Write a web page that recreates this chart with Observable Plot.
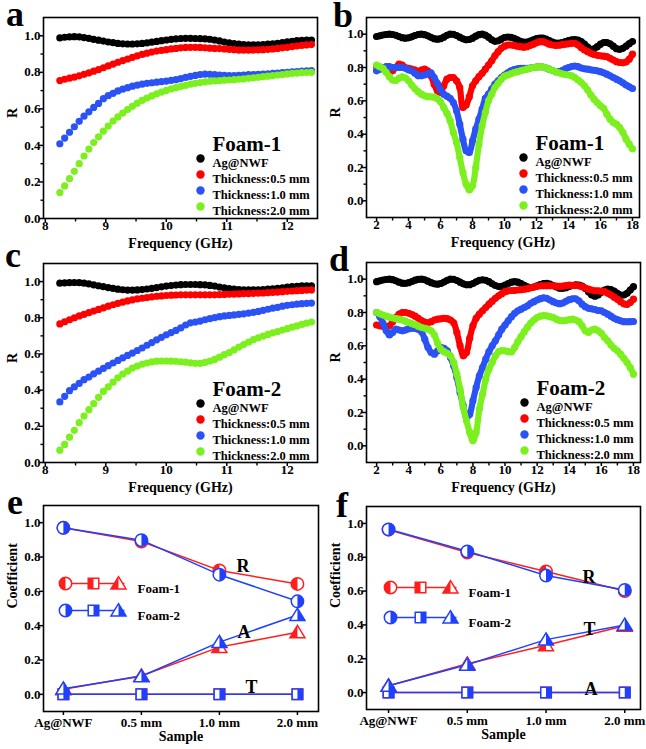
<!DOCTYPE html>
<html><head><meta charset="utf-8">
<script src="https://cdn.jsdelivr.net/npm/d3@7"></script>
<script src="https://cdn.jsdelivr.net/npm/@observablehq/plot@0.6"></script>
<style>
html,body{margin:0;padding:0;background:#fff;}
#root{position:relative;width:646px;height:749px;overflow:hidden;background:#fff;}
#root svg, #root svg text{font-family:'Liberation Serif','Times New Roman',serif !important;font-weight:bold;}
</style></head><body><div id="root"></div>
<script>
const FONT = "'Liberation Serif','Times New Roman',serif";

// ---------- panels a-d: legend ----------
const seriesNames = ["Ag@NWF", "Thickness:0.5 mm", "Thickness:1.0 mm", "Thickness:2.0 mm"];
const seriesColors = ["#000000", "#ff0000", "#2a52f5", "#7cf01e"];

// ---------- panels a & c: frequency (GHz), X band ----------
const freqX = [
  8.24, 8.32, 8.40, 8.48, 8.56, 8.64, 8.72, 8.80, 8.88, 8.96,
  9.04, 9.12, 9.20, 9.28, 9.36, 9.44, 9.52, 9.60, 9.68, 9.76,
  9.84, 9.92, 10.00, 10.08, 10.16, 10.24, 10.32, 10.40, 10.48, 10.56,
  10.64, 10.72, 10.80, 10.88, 10.96, 11.04, 11.12, 11.20, 11.28, 11.36,
  11.44, 11.52, 11.60, 11.68, 11.76, 11.84, 11.92, 12.00, 12.08, 12.16,
  12.24, 12.32, 12.40];

const aBlack = [
  .988,.992,.994,.995,.994,.99,.986,.98,.976,.971,
  .966,.962,.958,.956,.955,.955,.956,.958,.961,.965,
  .969,.973,.977,.98,.983,.985,.986,.986,.985,.984,
  .983,.981,.977,.972,.966,.961,.957,.954,.952,.951,
  .95,.951,.952,.954,.956,.959,.963,.967,.97,.973,
  .975,.976,.976];
const aRed = [
  .755,.762,.768,.774,.781,.789,.797,.806,.815,.825,
  .835,.845,.855,.864,.873,.882,.89,.898,.905,.911,
  .916,.92,.924,.928,.931,.934,.936,.937,.937,.936,
  .934,.932,.931,.93,.928,.926,.924,.922,.921,.921,
  .922,.923,.924,.926,.928,.931,.934,.937,.941,.944,
  .947,.95,.952];
const aBlue = [
  .409,.44,.472,.502,.532,.56,.584,.608,.63,.656,
  .672,.685,.698,.708,.716,.724,.73,.735,.74,.743,
  .746,.749,.752,.756,.76,.766,.772,.778,.783,.788,
  .79,.789,.787,.785,.783,.782,.782,.783,.785,.787,
  .788,.789,.79,.792,.794,.796,.798,.8,.802,.804,
  .806,.808,.809];
const aGreen = [
  .142,.178,.218,.258,.3,.342,.38,.416,.447,.478,
  .506,.533,.556,.577,.596,.614,.631,.646,.659,.671,
  .682,.692,.701,.709,.716,.723,.729,.735,.74,.744,
  .748,.751,.753,.755,.757,.758,.76,.762,.764,.767,
  .77,.773,.776,.779,.782,.785,.788,.791,.794,.796,
  .798,.799,.8];

const cBlack = [
  .991,.993,.994,.995,.994,.991,.987,.982,.977,.972,
  .967,.962,.958,.955,.953,.953,.954,.956,.959,.963,
  .967,.971,.975,.978,.981,.983,.984,.984,.984,.983,
  .982,.979,.975,.97,.965,.961,.958,.956,.955,.954,
  .954,.955,.956,.958,.96,.963,.966,.969,.972,.974,
  .976,.977,.977];
const cRed = [
  .766,.778,.789,.8,.81,.819,.828,.837,.846,.855,
  .864,.872,.88,.887,.893,.899,.904,.908,.912,.916,
  .919,.921,.923,.925,.926,.927,.927,.927,.927,.927,
  .927,.927,.927,.928,.929,.93,.931,.932,.933,.934,
  .935,.936,.937,.939,.94,.942,.944,.946,.948,.95,
  .951,.953,.954];
const cBlue = [
  .335,.366,.397,.418,.437,.458,.472,.49,.505,.52,
  .535,.55,.564,.578,.592,.605,.619,.633,.648,.663,
  .678,.692,.706,.718,.73,.744,.76,.772,.776,.782,
  .789,.795,.801,.806,.81,.813,.816,.819,.822,.826,
  .83,.835,.841,.847,.853,.858,.864,.869,.872,.875,
  .878,.88,.881];
const cGreen = [
  .068,.1,.14,.178,.22,.257,.292,.325,.36,.393,
  .418,.444,.468,.488,.505,.522,.533,.543,.55,.556,
  .56,.561,.561,.56,.559,.557,.555,.551,.548,.548,
  .553,.561,.57,.582,.596,.608,.622,.638,.652,.665,
  .679,.689,.699,.708,.716,.724,.732,.74,.748,.755,
  .763,.77,.776];

// ---------- panels b & d: frequency (GHz), 2-18 GHz ----------
const freqW = [
  2.0,2.2,2.4,2.6,2.8, 3.0,3.2,3.4,3.6,3.8, 4.0,4.2,4.4,4.6,4.8,
  5.0,5.2,5.4,5.6,5.8, 6.0,6.2,6.4,6.6,6.8, 7.0,7.2,7.4,7.6,7.8,
  8.0,8.2,8.4,8.6,8.8, 9.0,9.2,9.4,9.6,9.8, 10.0,10.2,10.4,10.6,10.8,
  11.0,11.2,11.4,11.6,11.8, 12.0,12.2,12.4,12.6,12.8, 13.0,13.2,13.4,13.6,13.8,
  14.0,14.2,14.4,14.6,14.8, 15.0,15.2,15.4,15.6,15.8, 16.0,16.2,16.4,16.6,16.8,
  17.0,17.2,17.4,17.6,17.8, 18.0];

const bBlack = [
  .986,.99,.995,.998,1.0, .998,.993,.986,.979,.976, .978,.984,.992,.998,1.0,
  .997,.99,.981,.973,.97, .973,.982,.993,1.0,.999, .992,.982,.972,.966,.968,
  .976,.988,.997,1.0,.994, .982,.966,.957,.96,.97, .98,.983,.981,.975,.966,
  .957,.952,.953,.958,.966, .973,.977,.976,.97,.961, .952,.946,.946,.95,.956,
  .962,.966,.967,.964,.955, .94,.922,.909,.912,.925, .94,.95,.95,.942,.928,
  .913,.909,.915,.928,.943, .956];
const bRed = [
  .805,.8,.795,.785,.775, .78,.8,.82,.815,.8, .795,.79,.785,.775,.785,
  .79,.78,.75,.7,.66, .65,.69,.73,.74,.74, .72,.68,.56,.575,.625,
  .69,.72,.745,.765,.79, .815,.84,.87,.895,.915, .928,.935,.935,.932,.928,
  .925,.922,.925,.932,.94, .948,.955,.955,.948,.94, .935,.932,.934,.937,.94,
  .942,.945,.945,.935,.918, .905,.895,.885,.878,.873, .87,.868,.865,.855,.845,
  .835,.83,.828,.833,.85, .88];
const bBlue = [
  .78,.79,.8,.805,.805, .8,.8,.8,.8,.795, .785,.78,.765,.75,.75,
  .755,.762,.768,.74,.705, .665,.64,.628,.615,.59, .54,.46,.37,.3,.29,
  .36,.43,.49,.55,.615, .64,.67,.7,.72,.74, .755,.768,.78,.787,.792,
  .795,.795,.795,.797,.8, .803,.805,.803,.797,.79, .782,.775,.775,.782,.792,
  .8,.806,.809,.805,.797, .792,.79,.786,.783,.78, .775,.768,.76,.75,.74,
  .73,.72,.708,.695,.684, .674];
const bGreen = [
  .815,.805,.795,.77,.745, .725,.722,.735,.744,.738, .72,.695,.672,.655,.64,
  .63,.625,.624,.622,.612, .594,.56,.525,.48,.41, .35,.26,.17,.1,.065,
  .09,.2,.34,.45,.53, .6,.64,.68,.705,.73, .748,.755,.762,.77,.775,
  .78,.785,.79,.795,.8, .802,.805,.803,.797,.79, .782,.775,.768,.762,.758,
  .755,.75,.74,.725,.71, .69,.665,.635,.61,.59, .57,.555,.52,.49,.47,
  .46,.44,.41,.37,.34, .312];

const dBlack = [
  .985,.99,.995,.998,1.0, .997,.99,.982,.976,.975, .979,.986,.994,.999,1.0,
  .996,.988,.979,.972,.97, .974,.983,.993,1.0,.999, .992,.982,.972,.966,.967,
  .974,.984,.993,.996,.993, .985,.972,.962,.956,.957, .964,.974,.982,.985,.982,
  .974,.963,.954,.95,.953, .96,.968,.974,.975,.97, .962,.953,.946,.945,.949,
  .956,.962,.966,.965,.958, .944,.925,.905,.898,.905, .922,.935,.94,.937,.928,
  .915,.905,.905,.915,.935, .955];
const dRed = [
  .725,.72,.718,.715,.72, .745,.77,.79,.8,.8, .795,.788,.778,.765,.752,
  .742,.738,.745,.755,.76, .762,.765,.763,.755,.738, .68,.6,.54,.56,.645,
  .72,.765,.79,.81,.83, .85,.868,.885,.9,.913, .925,.93,.932,.933,.935,
  .937,.94,.943,.948,.953, .957,.96,.96,.96,.96, .96,.958,.957,.958,.962,
  .964,.963,.962,.96,.955, .947,.94,.935,.93,.93, .928,.925,.915,.905,.892,
  .88,.865,.852,.848,.86, .88];
const dBlue = [
  .8,.775,.735,.69,.665, .68,.7,.695,.69,.695, .703,.706,.704,.698,.685,
  .64,.59,.56,.55,.57, .59,.585,.57,.53,.48, .41,.32,.24,.17,.19,
  .27,.35,.42,.47,.52, .565,.6,.63,.665,.7, .725,.75,.775,.795,.81,
  .82,.83,.84,.855,.865, .875,.883,.888,.885,.875, .865,.857,.853,.857,.867,
  .877,.882,.882,.87,.85, .835,.825,.822,.818,.812, .81,.8,.79,.778,.765,
  .757,.75,.745,.744,.745, .746];
const dGreen = [
  .8,.792,.785,.778,.772, .767,.763,.76,.755,.748, .74,.733,.726,.718,.71,
  .705,.7,.69,.665,.615, .58,.565,.555,.54,.5, .43,.34,.23,.15,.08,
  .03,.08,.22,.31,.4, .46,.5,.54,.565,.572, .57,.565,.563,.59,.625,
  .655,.685,.712,.737,.755, .77,.778,.782,.78,.775, .77,.76,.752,.75,.753,
  .757,.76,.755,.745,.72, .69,.68,.695,.7,.69, .675,.65,.63,.605,.585,
  .57,.55,.525,.5,.47, .43];

// ---------- panels e & f ----------
const samples = ["Ag@NWF", "0.5 mm", "1.0 mm", "2.0 mm"];
const foamNames = ["Foam-1", "Foam-2"];
const foamColors = ["#ff1e1e", "#1f40ff"];
// panel e: circles = R, squares = T, triangles = A
const eFoam1Circles = [0.97, 0.89, 0.722, 0.643];
const eFoam1Squares = [0, 0, 0, 0];
const eFoam1Triangles = [0.03, 0.108, 0.275, 0.362];
const eFoam2Circles = [0.97, 0.898, 0.697, 0.542];
const eFoam2Squares = [0, 0, 0, 0];
const eFoam2Triangles = [0.033, 0.105, 0.304, 0.462];
// panel f: circles = R, squares = A, triangles = T
const fFoam1Circles = [0.963, 0.828, 0.716, 0.6];
const fFoam1Squares = [0, 0, 0, 0];
const fFoam1Triangles = [0.04, 0.17, 0.28, 0.395];
const fFoam2Circles = [0.965, 0.835, 0.692, 0.607];
const fFoam2Squares = [0, 0, 0, 0];
const fFoam2Triangles = [0.04, 0.165, 0.313, 0.4];

// ---------- ticks ----------
const xTicksX = [8, 9, 10, 11, 12];
const xMinorX = [8.5, 9.5, 10.5, 11.5];
const xTicksW = [2, 4, 6, 8, 10, 12, 14, 16, 18];
const xMinorW = [3, 5, 7, 9, 11, 13, 15, 17];
const yTicks = [0, 0.2, 0.4, 0.6, 0.8, 1.0];
const yMinor = [0.1, 0.3, 0.5, 0.7, 0.9];
const sampleTicks = [0, 1, 2, 3];

const root = document.getElementById("root");

function place(svg, left, top) {
  svg.style.position = "absolute";
  svg.style.left = left + "px";
  svg.style.top = top + "px";
  svg.style.maxWidth = "none";
  svg.style.overflow = "visible";
  root.appendChild(svg);
}

// small outward minor-tick glyphs (no text)
const vTick = {draw(c) { c.moveTo(0, 0); c.lineTo(0, 3); }};
const hTick = {draw(c) { c.moveTo(0, 0); c.lineTo(-3, 0); }};

function axesMarks(xTicks, xMinor, yMin, xFmt, xPad) {
  return [
    Plot.dot(xMinor, {x: d => d, frameAnchor: "bottom", symbol: vTick, stroke: "black", strokeWidth: 1.4, fill: "none"}),
    Plot.dot(yMin, {y: d => d, frameAnchor: "left", symbol: hTick, stroke: "black", strokeWidth: 1.4, fill: "none"}),
    Plot.axisX({ticks: xTicks, tickSize: 4, tickPadding: xPad, strokeWidth: 1.5, tickFormat: xFmt, label: null, fontFamily: FONT}),
    Plot.axisY({ticks: yTicks, tickSize: 4, tickPadding: -1, strokeWidth: 1.5, tickFormat: d => d.toFixed(1), label: null, fontFamily: FONT})
  ];
}

function spectrumPanel(o) {
  const marks = axesMarks(o.xTicks, o.xMinor, yMinor, d => String(d), -1.5);
  o.series.forEach((vals, si) => {
    const d = vals.map((v, k) => ({f: o.freq[k], v}));
    if (o.band) marks.push(Plot.line(d, {x: "f", y: "v", stroke: seriesColors[si], strokeWidth: 6.2, curve: "catmull-rom"}));
    marks.push(Plot.dot(d, {x: "f", y: "v", r: o.r, fill: seriesColors[si]}));
  });
  marks.push(Plot.frame({strokeWidth: 1.6}));
  // legend
  marks.push(Plot.text([o.foam], {frameAnchor: "top-left", dx: o.lgX + 12, dy: o.lgY - 22, textAnchor: "start", fontSize: 21, fontWeight: "bold", fontFamily: FONT}));
  seriesNames.forEach((name, i) => {
    marks.push(Plot.dot([name], {frameAnchor: "top-left", dx: o.lgX, dy: o.lgY + 16 * i, r: 4.2, fill: seriesColors[i]}));
    marks.push(Plot.text([name], {frameAnchor: "top-left", dx: o.lgX + 12, dy: o.lgY + 16 * i, textAnchor: "start", fontSize: 12.5, fontWeight: "bold", fontFamily: FONT}));
  });
  marks.push(Plot.text(["Frequency (GHz)"], {frameAnchor: "bottom", dy: 29, fontSize: 14, fontWeight: "bold", fontFamily: FONT}));
  marks.push(Plot.text(["R"], {frameAnchor: "left", dx: -31, rotate: -90, fontSize: 14, fontWeight: "bold", fontFamily: FONT}));
  const svg = Plot.plot({
    width: o.width, height: o.height,
    marginLeft: o.m[0], marginRight: o.m[1], marginTop: o.m[2], marginBottom: o.m[3],
    x: {domain: o.xDomain, label: null},
    y: {domain: o.yDomain, label: null},
    style: {fontFamily: FONT, fontWeight: "bold", fontSize: "13px", color: "#000", background: "transparent"},
    marks
  });
  place(svg, o.left, o.top);
}

// custom half-filled symbols
const R_ = s => Math.sqrt(s / Math.PI);
const sym = {
  circle: {draw(c, s) { const r = R_(s); c.moveTo(r, 0); c.arc(0, 0, r, 0, 2 * Math.PI); c.closePath(); }},
  circleL: {draw(c, s) { const r = R_(s); c.moveTo(0, -r); c.arc(0, 0, r, -Math.PI / 2, Math.PI / 2, true); c.closePath(); }},
  circleR: {draw(c, s) { const r = R_(s); c.moveTo(0, -r); c.arc(0, 0, r, -Math.PI / 2, Math.PI / 2, false); c.closePath(); }},
  square: {draw(c, s) { const h = 0.85 * R_(s); c.moveTo(-h, -h); c.lineTo(h, -h); c.lineTo(h, h); c.lineTo(-h, h); c.closePath(); }},
  squareL: {draw(c, s) { const h = 0.85 * R_(s); c.moveTo(-h, -h); c.lineTo(0, -h); c.lineTo(0, h); c.lineTo(-h, h); c.closePath(); }},
  squareR: {draw(c, s) { const h = 0.85 * R_(s); c.moveTo(0, -h); c.lineTo(h, -h); c.lineTo(h, h); c.lineTo(0, h); c.closePath(); }},
  tri: {draw(c, s) { const t = 1.1 * R_(s); c.moveTo(0, -t); c.lineTo(1.1 * t, 0.8 * t); c.lineTo(-1.1 * t, 0.8 * t); c.closePath(); }},
  triL: {draw(c, s) { const t = 1.1 * R_(s); c.moveTo(0, -t); c.lineTo(0, 0.8 * t); c.lineTo(-1.1 * t, 0.8 * t); c.closePath(); }},
  triR: {draw(c, s) { const t = 1.1 * R_(s); c.moveTo(0, -t); c.lineTo(1.1 * t, 0.8 * t); c.lineTo(0, 0.8 * t); c.closePath(); }}
};
const segment = len => ({draw(c) { c.moveTo(-len / 2, 0); c.lineTo(len / 2, 0); }});

function markerMarks(data, opts, color, full, half) {
  return [
    Plot.dot(data, {...opts, r: 6.2, symbol: full, fill: "white", stroke: color, strokeWidth: 1.5}),
    Plot.dot(data, {...opts, r: 6.2, symbol: half, fill: color, stroke: "none"})
  ];
}

function coefPanel(o) {
  const marks = axesMarks(sampleTicks, [], [], i => samples[i], 2);
  o.foams.forEach((fm, fi) => {
    const color = foamColors[fi];
    const side = fi === 0 ? "L" : "R";
    const groups = [[fm[0], "circle"], [fm[1], "square"], [fm[2], "tri"]];
    groups.forEach(([vals]) => {
      const d = vals.map((v, i) => ({i, v}));
      marks.push(Plot.line(d, {x: "i", y: "v", stroke: color, strokeWidth: 1.5}));
    });
    groups.forEach(([vals, shape]) => {
      const d = vals.map((v, i) => ({i, v}));
      marks.push(...markerMarks(d, {x: "i", y: "v"}, color, sym[shape], sym[shape + side]));
    });
  });
  marks.push(Plot.frame({strokeWidth: 1.6}));
  // legend
  foamNames.forEach((name, fi) => {
    const color = foamColors[fi];
    const side = fi === 0 ? "L" : "R";
    const dy = o.lgY + o.lgStep * fi;
    const base = {frameAnchor: "top-left", dy};
    marks.push(Plot.dot([name], {...base, dx: (o.lgX[0] + o.lgX[2]) / 2, symbol: segment(o.lgX[2] - o.lgX[0] + 12), stroke: color, strokeWidth: 1.5, fill: "none"}));
    ["circle", "square", "tri"].forEach((shape, k) => {
      marks.push(...markerMarks([name], {...base, dx: o.lgX[k]}, color, sym[shape], sym[shape + side]));
    });
    marks.push(Plot.text([name], {...base, dx: o.lgX[3], textAnchor: "start", fontSize: 13, fontWeight: "bold", fontFamily: FONT}));
  });
  o.labels.forEach(([t, dx, dy]) => marks.push(Plot.text([t], {frameAnchor: "top-left", dx, dy, fontSize: 18, fontWeight: "bold", fontFamily: FONT})));
  marks.push(Plot.text(["Sample"], {frameAnchor: "bottom", dy: 29, fontSize: 14, fontWeight: "bold", fontFamily: FONT}));
  marks.push(Plot.text(["Coefficient"], {frameAnchor: "left", dx: -31, rotate: -90, fontSize: 14, fontWeight: "bold", fontFamily: FONT}));
  const svg = Plot.plot({
    width: o.width, height: o.height,
    marginLeft: o.m[0], marginRight: o.m[1], marginTop: o.m[2], marginBottom: o.m[3],
    x: {domain: o.xDomain, label: null},
    y: {domain: [-0.1, 1.1], label: null},
    style: {fontFamily: FONT, fontWeight: "bold", fontSize: "13px", color: "#000", background: "transparent"},
    marks
  });
  place(svg, o.left, o.top);
}

spectrumPanel({left: 0, top: 0, width: 323, height: 256, m: [43, 6, 17, 38],
  xDomain: [7.97, 12.5], yDomain: [0, 1.1], xTicks: xTicksX, xMinor: xMinorX,
  freq: freqX, series: [aBlack, aRed, aBlue, aGreen], r: 3.6, band: false,
  foam: "Foam-1", lgX: 157, lgY: 141});
spectrumPanel({left: 323, top: 0, width: 323, height: 256, m: [43, 7, 17, 39],
  xDomain: [1.37, 18.44], yDomain: [-0.1, 1.1], xTicks: xTicksW, xMinor: xMinorW,
  freq: freqW, series: [bBlack, bRed, bBlue, bGreen], r: 3.6, band: true,
  foam: "Foam-1", lgX: 157, lgY: 140});
spectrumPanel({left: 0, top: 250, width: 323, height: 256, m: [43, 6, 13, 44],
  xDomain: [7.97, 12.5], yDomain: [0, 1.1], xTicks: xTicksX, xMinor: xMinorX,
  freq: freqX, series: [cBlack, cRed, cBlue, cGreen], r: 3.6, band: false,
  foam: "Foam-2", lgX: 157, lgY: 140});
spectrumPanel({left: 323, top: 250, width: 323, height: 256, m: [43, 6, 12, 44],
  xDomain: [1.37, 18.44], yDomain: [-0.1, 1.1], xTicks: xTicksW, xMinor: xMinorW,
  freq: freqW, series: [dBlack, dRed, dBlue, dGreen], r: 3.6, band: true,
  foam: "Foam-2", lgX: 158, lgY: 140});

coefPanel({left: 0, top: 490, width: 323, height: 259, m: [43, 5, 15, 38],
  xDomain: [-0.255, 3.27],
  foams: [[eFoam1Circles, eFoam1Squares, eFoam1Triangles], [eFoam2Circles, eFoam2Squares, eFoam2Triangles]],
  lgX: [22, 50, 75, 94], lgY: 78, lgStep: 27,
  labels: [["R", 193, 54], ["A", 194, 120], ["T", 202, 175]]});
coefPanel({left: 323, top: 490, width: 323, height: 259, m: [43, 6, 16, 40],
  xDomain: [-0.28, 3.2],
  foams: [[fFoam1Circles, fFoam1Squares, fFoam1Triangles], [fFoam2Circles, fFoam2Squares, fFoam2Triangles]],
  lgX: [24, 54, 84, 102], lgY: 81, lgStep: 30,
  labels: [["R", 216, 64], ["T", 217, 116], ["A", 218, 176]]});

// panel letters
const letters = [["a", 6, 26], ["b", 333, 27], ["c", 5, 267], ["d", 329, 271], ["e", 7, 514], ["f", 336, 517]];
const ns = "http://www.w3.org/2000/svg";
const over = document.createElementNS(ns, "svg");
over.setAttribute("width", 646); over.setAttribute("height", 749);
over.style.position = "absolute"; over.style.left = "0"; over.style.top = "0"; over.style.pointerEvents = "none";
letters.forEach(([t, x, y]) => {
  const el = document.createElementNS(ns, "text");
  el.setAttribute("x", x); el.setAttribute("y", y);
  el.setAttribute("font-family", FONT); el.setAttribute("font-weight", "bold"); el.setAttribute("font-size", 36);
  el.textContent = t;
  over.appendChild(el);
});
root.appendChild(over);
</script></body></html>
